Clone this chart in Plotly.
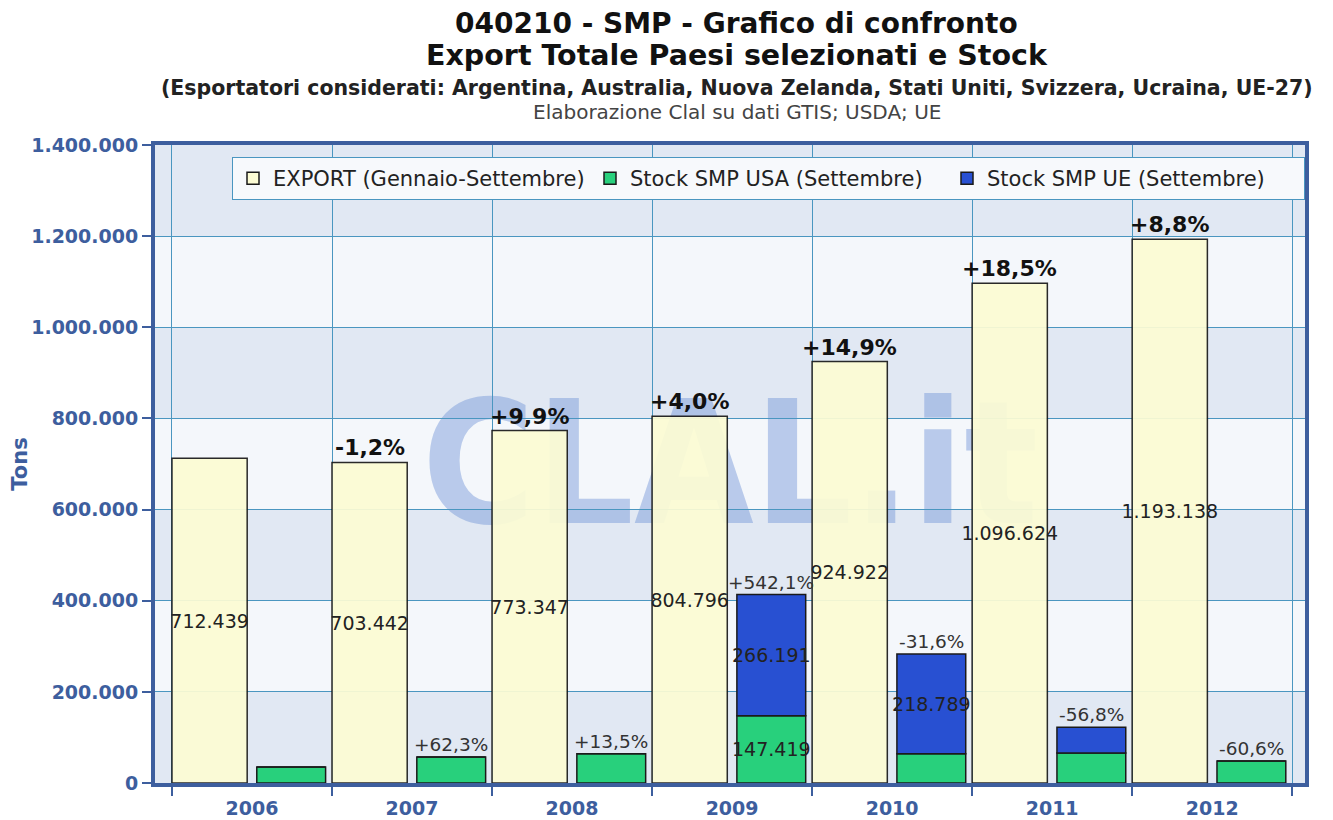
import plotly.graph_objects as go

anni = ['2006', '2007', '2008', '2009', '2010', '2011', '2012']
export = [712439, 703442, 773347, 804796, 924922, 1096624, 1193138]
stock_usa = [35000, 56800, 64400, 147419, 64100, 66000, 48100]
stock_ue = [0, 0, 0, 266191, 218789, 56200, 0]
var_export = ['', '-1,2%', '+9,9%', '+4,0%', '+14,9%', '+18,5%', '+8,8%']
var_stock = ['', '+62,3%', '+13,5%', '+542,1%', '-31,6%', '-56,8%', '-60,6%']
y_ticks = [0, 200000, 400000, 600000, 800000, 1000000, 1200000, 1400000]

BLU = '#3d5e9e'
FONT = 'DejaVu Sans'


def fmt(v):
    return f'{v:,}'.replace(',', '.')


stock_tot = [u + e for u, e in zip(stock_usa, stock_ue)]
linea = dict(color='#1a1a1a', width=1.5)
txt = dict(family=FONT, size=19, color='#222')

fig = go.Figure()
fig.add_trace(go.Bar(
    x=anni, y=export, name='EXPORT (Gennaio-Settembre)',
    offset=-0.5, width=0.47,
    marker=dict(color='#fcfcd4', line=linea, opacity=0.93),
    text=[fmt(v) for v in export], textposition='inside',
    insidetextanchor='middle', textangle=0, constraintext='none',
    textfont=txt
))
fig.add_trace(go.Bar(
    x=anni, y=stock_usa, name='Stock SMP USA (Settembre)',
    offset=0.03, width=0.43,
    marker=dict(color='#28d07c', line=linea),
    text=[fmt(v) if v > 100000 else '' for v in stock_usa], textposition='inside',
    insidetextanchor='middle', textangle=0, constraintext='none',
    textfont=txt
))
fig.add_trace(go.Bar(
    x=anni, y=stock_ue, base=stock_usa, name='Stock SMP UE (Settembre)',
    offset=0.03, width=0.43,
    marker=dict(color='#2850d2', line=linea),
    text=[fmt(v) if v > 100000 else '' for v in stock_ue], textposition='inside',
    insidetextanchor='middle', textangle=0, constraintext='none',
    textfont=txt
))

# variazioni percentuali sopra le barre
ann = []
for i in range(len(anni)):
    if var_export[i]:
        ann.append(dict(x=i - 0.5 + 0.235, y=export[i], xref='x', yref='y',
                        text='<b>' + var_export[i] + '</b>', showarrow=False,
                        yanchor='bottom', font=dict(family=FONT, size=22, color='#111')))
    if var_stock[i]:
        ann.append(dict(x=i + 0.03 + 0.215, y=stock_tot[i], xref='x', yref='y',
                        text=var_stock[i], showarrow=False,
                        yanchor='bottom', font=dict(family=FONT, size=18.5, color='#333')))

# titoli
titoli = [
    ('<b>040210 - SMP - Grafico di confronto</b>', 28, '#111', 122),
    ('<b>Export Totale Paesi selezionati e Stock</b>', 28.5, '#111', 90),
    ('<b>(Esportatori considerati: Argentina, Australia, Nuova Zelanda, Stati Uniti, Svizzera, Ucraina, UE-27)</b>', 20.5, '#222', 57),
    ('Elaborazione Clal su dati GTIS; USDA; UE', 20, '#444', 33),
]
for t, s, c, dy in titoli:
    ann.append(dict(x=0.506, y=1, xref='paper', yref='paper', text=t, showarrow=False,
                    xanchor='center', yanchor='middle', yshift=dy,
                    font=dict(family=FONT, size=s, color=c)))

# fasce orizzontali alternate + watermark
shapes = []
for k in range(0, len(y_ticks) - 1, 2):
    shapes.append(dict(type='rect', xref='paper', yref='y', x0=0, x1=1,
                       y0=y_ticks[k], y1=y_ticks[k + 1], fillcolor='#e1e8f3',
                       line=dict(width=0), layer='below'))
shapes.append(dict(type='rect', xref='paper', yref='paper', x0=0, x1=1, y0=0.32, y1=0.72,
                   line=dict(width=0), fillcolor='rgba(0,0,0,0)', layer='below',
                   label=dict(text='<b>CLAL.it</b>', textposition='middle center',
                              font=dict(family='DejaVu Sans Condensed, Liberation Sans Narrow, DejaVu Sans',
                                        size=172, color='rgba(110,145,215,0.44)'))))

fig.update_layout(
    width=1333, height=820,
    # la pagina ha 8px di margine body: margini compensati
    margin=dict(l=147, r=36, t=137, b=45),
    paper_bgcolor='white', plot_bgcolor='#f4f7fb',
    separators=',.',
    barmode='overlay',
    font=dict(family=FONT, color='#222'),
    annotations=ann, shapes=shapes,
    legend=dict(orientation='h', x=(232 - 155) / 1150, xanchor='left', y=0.981, yanchor='top',
                bgcolor='#f7f9fc', bordercolor='#4a96c0', borderwidth=1,
                entrywidth=312, entrywidthmode='pixels',
                font=dict(family=FONT, size=21, color='#222'), traceorder='normal'),
    showlegend=True,
)
fig.update_xaxes(
    type='category', range=[-0.606, 6.58], tickson='boundaries', automargin=False,
    ticks='outside', ticklen=9, tickcolor=BLU, tickwidth=2, ticklabelstandoff=5,
    showgrid=True, gridcolor='#4a96c0', gridwidth=1,
    showline=True, linecolor=BLU, linewidth=4, mirror=True,
    tickfont=dict(family=FONT, size=19, color=BLU, weight='bold'),
)
fig.update_yaxes(
    range=[0, 1400000], tickvals=y_ticks, tickformat=',d', automargin=False,
    ticks='outside', ticklen=9, tickcolor=BLU, tickwidth=2,
    showgrid=True, gridcolor='#4a96c0', gridwidth=1, zeroline=False,
    showline=True, linecolor=BLU, linewidth=4, mirror=True,
    tickfont=dict(family=FONT, size=19, color=BLU, weight='bold'),
    title=dict(text='<b>Tons</b>', font=dict(family=FONT, size=21, color=BLU), standoff=14),
)

fig.write_html('out.html')
